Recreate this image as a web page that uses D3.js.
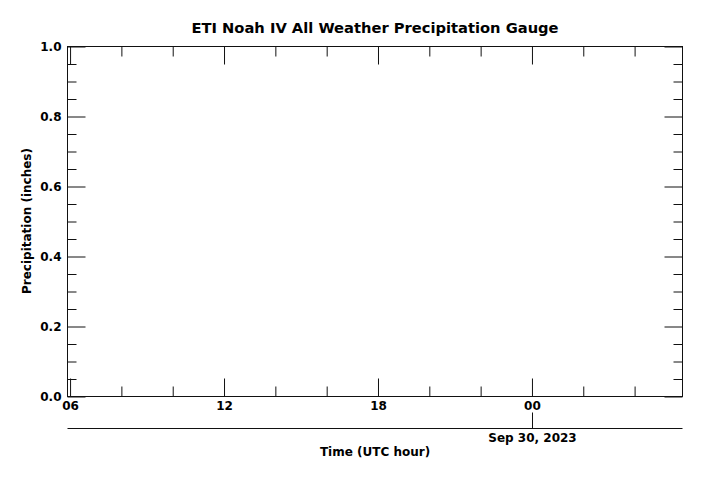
<!DOCTYPE html>
<html>
<head>
<meta charset="utf-8">
<script src="https://cdn.jsdelivr.net/npm/d3@7"></script>
<style>
html,body{margin:0;padding:0;background:#fff;}
svg text{font-family:"DejaVu Sans",sans-serif;font-weight:bold;fill:#000;}
</style>
</head>
<body>
<svg id="c" width="704" height="477"></svg>
<script>
// Data (no precipitation observations plotted)
const title = "ETI Noah IV All Weather Precipitation Gauge";
const yLabel = "Precipitation (inches)";
const xLabel = "Time (UTC hour)";
const timeDomain = ["2023-09-29T05:54:00Z", "2023-09-30T05:52:00Z"];
const yDomain = [0, 1.0];
const yMajorTicks = [0, 0.2, 0.4, 0.6, 0.8, 1.0];
const yMinorTicks = [0.05,0.1,0.15,0.25,0.3,0.35,0.45,0.5,0.55,0.65,0.7,0.75,0.85,0.9,0.95];
const xMajorTicks = ["2023-09-29T06:00:00Z","2023-09-29T12:00:00Z","2023-09-29T18:00:00Z","2023-09-30T00:00:00Z"];
const xMinorTicks = ["2023-09-29T08:00:00Z","2023-09-29T10:00:00Z","2023-09-29T14:00:00Z","2023-09-29T16:00:00Z","2023-09-29T20:00:00Z","2023-09-29T22:00:00Z","2023-09-30T02:00:00Z","2023-09-30T04:00:00Z"];
const dateLabel = "Sep 30, 2023";
const dateTick = "2023-09-30T00:00:00Z";
const precipTimes = [];
const precipValues = [];

const svg = d3.select("#c");
const L = 67.5, R = 682.5, T = 46.5, B = 396.5;
const x = d3.scaleUtc().domain(timeDomain.map(d => new Date(d))).range([L, R]);
const y = d3.scaleLinear().domain(yDomain).range([B, T]);
const stroke = "#111";
const FS = 12;

const fmtH = d3.utcFormat("%H");
const xMaj = xMajorTicks.map(d => new Date(d));
const xMin = xMinorTicks.map(d => new Date(d));

function ax(g){ g.selectAll(".tick line").attr("stroke", stroke); g.select(".domain").remove(); }

// bottom axis with labels (ticks inward)
svg.append("g").attr("transform", `translate(0,${B})`)
  .call(d3.axisBottom(x).tickValues(xMaj).tickFormat(fmtH).tickSizeInner(-18).tickSizeOuter(0))
  .call(ax)
  .call(g => g.selectAll("text").attr("font-size", FS).attr("dy", null).attr("y", 13));
svg.append("g").attr("transform", `translate(0,${B})`)
  .call(d3.axisBottom(x).tickValues(xMin).tickFormat("").tickSizeInner(-10).tickSizeOuter(0))
  .call(ax);
// top axis
svg.append("g").attr("transform", `translate(0,${T})`)
  .call(d3.axisTop(x).tickValues(xMaj).tickFormat("").tickSizeInner(-18).tickSizeOuter(0))
  .call(ax);
svg.append("g").attr("transform", `translate(0,${T})`)
  .call(d3.axisTop(x).tickValues(xMin).tickFormat("").tickSizeInner(-10).tickSizeOuter(0))
  .call(ax);

// left axis
svg.append("g").attr("transform", `translate(${L},0)`)
  .call(d3.axisLeft(y).tickValues(yMajorTicks).tickFormat(d3.format(".1f")).tickSizeInner(-18).tickSizeOuter(0))
  .call(ax)
  .call(g => g.selectAll("text").attr("font-size", FS).attr("x", -6));
svg.append("g").attr("transform", `translate(${L},0)`)
  .call(d3.axisLeft(y).tickValues(yMinorTicks).tickFormat("").tickSizeInner(-9).tickSizeOuter(0))
  .call(ax);
// right axis
svg.append("g").attr("transform", `translate(${R},0)`)
  .call(d3.axisRight(y).tickValues(yMajorTicks).tickFormat("").tickSizeInner(-18).tickSizeOuter(0))
  .call(ax);
svg.append("g").attr("transform", `translate(${R},0)`)
  .call(d3.axisRight(y).tickValues(yMinorTicks).tickFormat("").tickSizeInner(-9).tickSizeOuter(0))
  .call(ax);

// frame
svg.append("rect").attr("x", L).attr("y", T).attr("width", R - L).attr("height", B - T)
  .attr("fill", "none").attr("stroke", stroke).attr("stroke-width", 1);

// data line (empty)
svg.append("path").datum(precipTimes.map((t, i) => [new Date(t), precipValues[i]]))
  .attr("fill", "none").attr("stroke", "#000")
  .attr("d", d3.line().x(d => x(d[0])).y(d => y(d[1])));

// secondary date axis
const Y2 = 428.5;
svg.append("line").attr("x1", L).attr("x2", R).attr("y1", Y2).attr("y2", Y2).attr("stroke", stroke);
const dx = Math.round(x(new Date(dateTick))) + 0.5;
svg.append("line").attr("x1", dx).attr("x2", dx).attr("y1", Y2 - 16).attr("y2", Y2).attr("stroke", stroke);
svg.append("text").attr("x", dx).attr("y", 442).attr("text-anchor", "middle").attr("font-size", FS).text(dateLabel);

// labels
svg.append("text").attr("x", 375).attr("y", 455.5).attr("text-anchor", "middle").attr("font-size", FS).text(xLabel);
svg.append("text").attr("transform", "translate(31,221) rotate(-90)").attr("text-anchor", "middle").attr("font-size", FS).text(yLabel);
svg.append("text").attr("x", 375).attr("y", 32.5).attr("text-anchor", "middle").attr("font-size", 14.7).text(title);
</script>
</body>
</html>
